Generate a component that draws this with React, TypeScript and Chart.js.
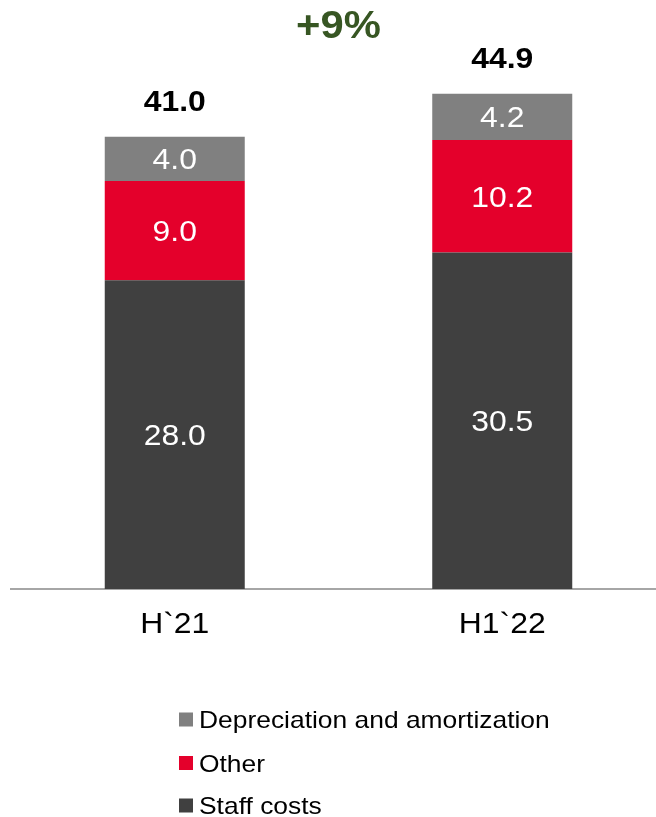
import React, { useEffect, useRef } from "react";
import { Chart, registerables } from "chart.js";

Chart.register(...registerables);

// Categories and series values (EUR m)
const periods = ["H`21", "H1`22"];
const staffCosts = [28.0, 30.5];
const otherCosts = [9.0, 10.2];
const depreciation = [4.0, 4.2];
const growthLabel = "+9%";

const seriesNames = ["Staff costs", "Other", "Depreciation and amortization"];
const seriesColors = ["#404040", "#E4002B", "#808080"];

const FONT = '"Liberation Sans", Arial, sans-serif';
const SX = 1.1; // horizontal text stretch

function drawText(
  ctx: CanvasRenderingContext2D,
  text: string,
  x: number,
  y: number,
  font: string,
  color: string,
  align: CanvasTextAlign = "center"
) {
  ctx.save();
  ctx.font = font;
  ctx.fillStyle = color;
  ctx.textAlign = align;
  ctx.textBaseline = "alphabetic";
  ctx.translate(x, y);
  ctx.scale(SX, 1);
  ctx.fillText(text, 0, 0);
  ctx.restore();
}

const labelsPlugin = {
  id: "costLabels",
  afterDatasetsDraw(chart: any) {
    const ctx: CanvasRenderingContext2D = chart.ctx;
    const nSets = chart.data.datasets.length;
    const nCats = chart.data.labels.length;
    const tops: number[] = [];
    const xs: number[] = [];

    // values inside each segment
    for (let d = 0; d < nSets; d++) {
      const meta = chart.getDatasetMeta(d);
      meta.data.forEach((bar: any, i: number) => {
        const v = chart.data.datasets[d].data[i] as number;
        const cy = (bar.y + bar.base) / 2;
        drawText(ctx, v.toFixed(1), bar.x, cy + 10.5, `29px ${FONT}`, "#ffffff");
        xs[i] = bar.x;
        tops[i] = tops[i] === undefined ? bar.y : Math.min(tops[i], bar.y);
      });
    }

    // totals above the stacks
    for (let i = 0; i < nCats; i++) {
      let total = 0;
      for (let d = 0; d < nSets; d++) total += chart.data.datasets[d].data[i] as number;
      drawText(ctx, total.toFixed(1), xs[i], tops[i] - 26, `bold 29px ${FONT}`, "#000000");
    }

    // growth marker between the two periods
    drawText(ctx, growthLabel, (xs[0] + xs[1]) / 2, 38, `bold 38px ${FONT}`, "#375623");

    // category labels under the axis
    const base = chart.chartArea.bottom;
    for (let i = 0; i < nCats; i++) {
      drawText(ctx, chart.data.labels[i], xs[i], base + 44, `29px ${FONT}`, "#000000");
    }

    // legend, top entry = top segment
    const legendRows = [719.5, 763, 805.5];
    for (let r = 0; r < nSets; r++) {
      const d = nSets - 1 - r;
      const cy = legendRows[r];
      ctx.save();
      ctx.fillStyle = seriesColors[d];
      ctx.fillRect(179, cy - 7, 14, 14);
      ctx.restore();
      drawText(ctx, seriesNames[d], 199, cy + 8.6, `24px ${FONT}`, "#000000", "left");
    }
  },
};

export default function App() {
  const canvasRef = useRef<HTMLCanvasElement | null>(null);

  useEffect(() => {
    const canvas = canvasRef.current;
    if (!canvas) return;
    const values = [staffCosts, otherCosts, depreciation];
    const chart = new Chart(canvas, {
      type: "bar",
      data: {
        labels: periods,
        datasets: values.map((v, k) => ({
          label: seriesNames[k],
          data: v,
          backgroundColor: seriesColors[k],
          borderWidth: 0,
          categoryPercentage: 1,
          barPercentage: 0.4275,
        })),
      },
      options: {
        responsive: false,
        animation: false,
        layout: { padding: { left: 11, right: 0, top: 37.5, bottom: 0 } },
        plugins: {
          legend: { display: false },
          tooltip: { enabled: false },
          title: { display: false },
        },
        scales: {
          x: {
            stacked: true,
            grid: { display: false, drawTicks: false },
            ticks: { display: false },
            border: { display: true, color: "#a6a6a6", width: 2 },
            afterFit: (scale: any) => {
              scale.height = 228;
            },
          },
          y: {
            stacked: true,
            display: false,
            min: 0,
            max: 50,
          },
        },
      },
      plugins: [labelsPlugin],
    });
    return () => chart.destroy();
  }, []);

  return (
    <div
      style={{
        position: "fixed",
        left: 0,
        top: 0,
        width: 656,
        height: 817,
        overflow: "hidden",
        background: "#ffffff",
      }}
    >
      <canvas ref={canvasRef} width={666} height={817} style={{ display: "block" }} />
    </div>
  );
}
